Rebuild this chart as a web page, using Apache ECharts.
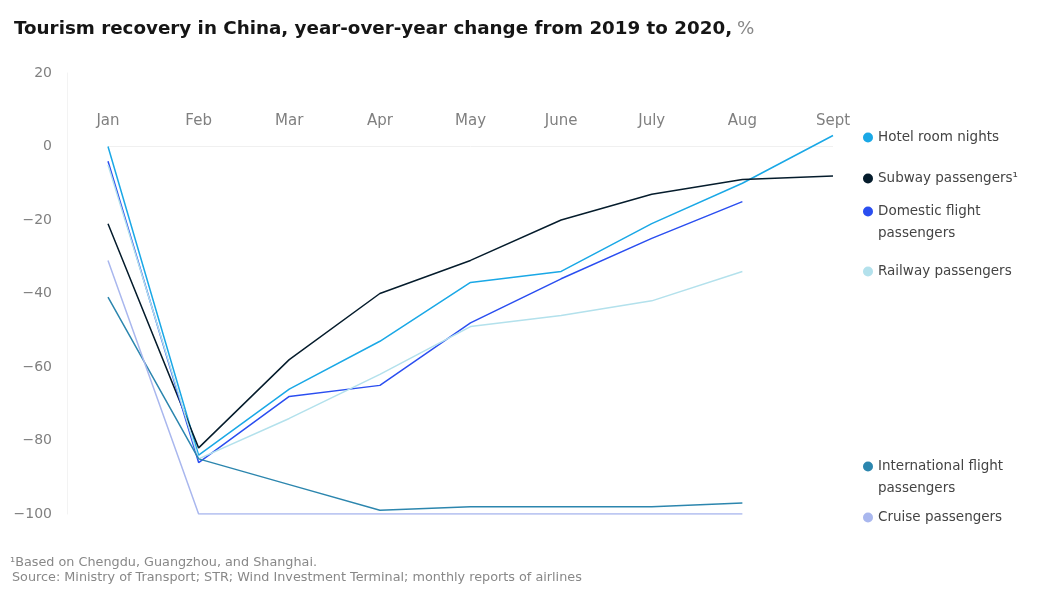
<!DOCTYPE html>
<html>
<head>
<meta charset="utf-8">
<script src="https://cdn.jsdelivr.net/npm/echarts@6/dist/echarts.min.js"></script>
<style>
html,body{margin:0;padding:0;background:#fff;}
#chart{width:1048px;height:589px;}
</style>
</head>
<body>
<div id="chart"></div>
<script>
const months = ['Jan','Feb','Mar','Apr','May','June','July','Aug','Sept'];
const yTicks = [20, 0, -20, -40, -60, -80, -100];
const hotel    = [0,   -84, -66, -53, -37, -34, -21, -10,  3];
const subway   = [-21, -82, -58, -40, -31, -20, -13,  -9, -8];
const domestic = [-4,  -86, -68, -65, -48, -36, -25, -15, null];
const railway  = [-5,  -85, -74, -62, -49, -46, -42, -34, null];
const intl     = [-41, -85, -92, -99, -98, -98, -98, -97, null];
const cruise   = [-31, -100, -100, -100, -100, -100, -100, -100, null];

const seriesNames = ['Hotel room nights','Subway passengers','Domestic flight passengers','Railway passengers','International flight passengers','Cruise passengers'];
const legendLabels = ['Hotel room nights','Subway passengers\u00b9','Domestic flight','Railway passengers','International flight','Cruise passengers'];
const legendSecondLines = [null, null, 'passengers', null, 'passengers', null];
const seriesData = [hotel, subway, domestic, railway, intl, cruise];
const colors = ['#1aa8e6','#051c2c','#2a4ef0','#b3e1ec','#2c86ae','#a9b7ee'];
const legendTops = [127, 168, 201, 261, 456, 507];

const FONT = 'DejaVu Sans';
const chart = echarts.init(document.getElementById('chart'));
const legends = seriesNames.map((n,i)=>({
  data:[n], left:863, top: legendTops[i],
  icon:'circle', itemWidth:10, itemHeight:10, itemGap:0, padding:0,
  selectedMode:false,
  formatter: ()=>legendLabels[i],
  textStyle:{fontFamily:FONT, fontSize:13.5, color:'#444', lineHeight:21}
}));
const secondLines = [];
legendSecondLines.forEach((t,i)=>{
  if (t) secondLines.push({type:'text', left:878, top: legendTops[i]+25,
    style:{text:t, fontFamily:FONT, fontSize:13.5, fill:'#444'}});
});

chart.setOption({
  animation:false,
  color: colors,
  title:{
    text:'{b|Tourism recovery in China, year-over-year change from 2019 to 2020,} {l|%}',
    left:9, top:15,
    textStyle:{rich:{
      b:{fontFamily:FONT, fontSize:18.3, fontWeight:700, color:'#151515'},
      l:{fontFamily:FONT, fontSize:18.3, fontWeight:400, color:'#888'}
    }}
  },
  legend: legends,
  grid:{left:108, right:215, top:73, bottom:75},
  xAxis:{
    type:'category', data:months, boundaryGap:false, position:'top', offset:-64,
    axisLine:{show:false}, axisTick:{show:false}, splitLine:{show:false},
    axisLabel:{fontFamily:FONT, fontSize:15, color:'#808080', margin:8, interval:0}
  },
  yAxis:{
    type:'value', min:-100, max:20, interval:20, offset:41,
    axisLine:{show:true, lineStyle:{color:'#f3f3f3'}}, axisTick:{show:false},
    splitLine:{show:false},
    axisLabel:{fontFamily:FONT, fontSize:14, color:'#808080', margin:15,
      formatter:v=> yTicks.includes(v) ? (v<0 ? '\u2212'+Math.abs(v) : String(v)) : ''}
  },
  series: seriesNames.map((n,i)=>({
    name:n, type:'line', data:seriesData[i], symbol:'none', smooth:false,
    lineStyle:{width:1.5, color:colors[i]}, itemStyle:{color:colors[i]},
    markLine: i===0 ? {silent:true, symbol:'none', label:{show:false},
      lineStyle:{color:'#f0f0f0', width:1, type:'solid'}, data:[{yAxis:0}], z:0} : undefined,
    z: 2
  })),
  graphic: secondLines.concat([
    {type:'text', left:10, top:556, style:{text:'\u00b9Based on Chengdu, Guangzhou, and Shanghai.', fontFamily:FONT, fontSize:12.8, fill:'#888'}},
    {type:'text', left:12, top:571, style:{text:'Source: Ministry of Transport; STR; Wind Investment Terminal; monthly reports of airlines', fontFamily:FONT, fontSize:12.8, fill:'#888'}}
  ])
});
</script>
</body>
</html>
